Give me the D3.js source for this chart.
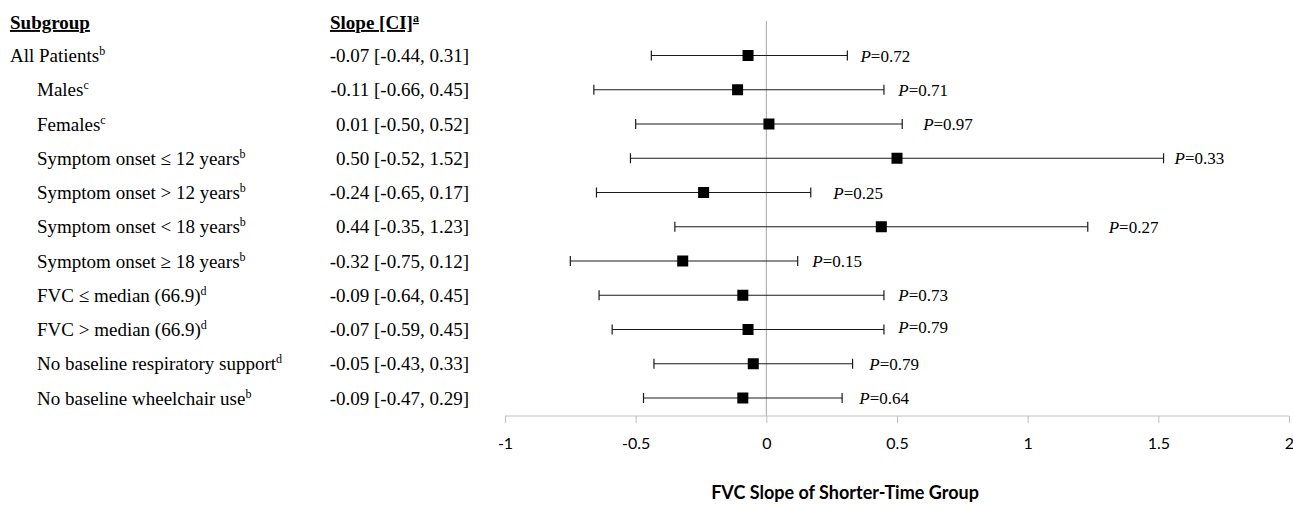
<!DOCTYPE html>
<html>
<head>
<meta charset="utf-8">
<script src="https://cdn.jsdelivr.net/npm/d3@7"></script>
<style>
  body { margin: 0; background: #fff; }
  svg { display: block; }
</style>
</head>
<body>
<div id="chart"></div>
<script>
// subgroup rows, top to bottom
const subgroups = [
  "All Patients", "Males", "Females",
  "Symptom onset \u2264 12 years", "Symptom onset > 12 years",
  "Symptom onset < 18 years", "Symptom onset \u2265 18 years",
  "FVC \u2264 median (66.9)", "FVC > median (66.9)",
  "No baseline respiratory support", "No baseline wheelchair use"
];
const notes = ["b", "c", "c", "b", "b", "b", "b", "d", "d", "d", "b"];
const indented = [false, true, true, true, true, true, true, true, true, true, true];

const slope = [-0.07, -0.11, 0.01, 0.50, -0.24, 0.44, -0.32, -0.09, -0.07, -0.05, -0.09];
const lower = [-0.44, -0.66, -0.50, -0.52, -0.65, -0.35, -0.75, -0.64, -0.59, -0.43, -0.47];
const upper = [0.31, 0.45, 0.52, 1.52, 0.17, 1.23, 0.12, 0.45, 0.45, 0.33, 0.29];
const pValues = ["0.72", "0.71", "0.97", "0.33", "0.25", "0.27", "0.15", "0.73", "0.79", "0.79", "0.64"];
// where each P label starts, in slope units
const pAt = [0.36, 0.505, 0.6, 1.562, 0.256, 1.31, 0.176, 0.505, 0.505, 0.394, 0.356];

const xTicks = [-1, -0.5, 0, 0.5, 1, 1.5, 2];

const width = 1293, height = 505;
const serif = "'Liberation Serif', 'Times New Roman', serif";
const sans = "Lato, 'Open Sans', sans-serif";

const svg = d3.select("#chart").append("svg")
    .attr("width", width)
    .attr("height", height);

const x = d3.scaleLinear().domain([-1, 2]).range([505, 1289]);
const y = d3.scalePoint().domain(subgroups).range([55.5, 398]);
const axisY = 416;

const fmt = d => (d < 0 ? "-" : "") + Math.abs(d).toFixed(2);

// headers
const head = svg.append("g")
    .attr("font-family", serif)
    .attr("font-size", 19)
    .attr("font-weight", "bold")
    .attr("text-decoration", "underline");
head.append("text").attr("x", 10).attr("y", 29).text("Subgroup");
const sh = head.append("text").attr("x", 330).attr("y", 29);
sh.append("tspan").text("Slope [CI]");
sh.append("tspan").attr("font-size", 12).attr("dy", -7).text("a");

// row labels and slope column
const rows = svg.append("g")
    .attr("font-family", serif)
    .attr("font-size", 19);

subgroups.forEach((s, i) => {
  const t = rows.append("text")
      .attr("x", indented[i] ? 37 : 10)
      .attr("y", y(s) + 6.5);
  t.append("tspan").text(s);
  t.append("tspan").attr("font-size", 12).attr("dy", -7).text(notes[i]);

  rows.append("text")
      .attr("x", 469)
      .attr("y", y(s) + 6.5)
      .attr("text-anchor", "end")
      .text(`${fmt(slope[i])} [${fmt(lower[i])}, ${fmt(upper[i])}]`);
});

// zero reference line
svg.append("line")
    .attr("x1", x(0)).attr("x2", x(0))
    .attr("y1", 21).attr("y2", axisY)
    .attr("stroke", "#a6a6a6")
    .attr("stroke-width", 1);

// x axis
const axis = svg.append("g")
    .attr("transform", `translate(0,${axisY})`)
    .call(d3.axisBottom(x).tickValues(xTicks).tickSize(7).tickPadding(15)
      .tickFormat(d => String(d)));
axis.select(".domain").attr("stroke", "#bfbfbf").attr("d", `M${x(-1)},0H${x(2)}`);
axis.selectAll(".tick line").attr("stroke", "#bfbfbf");
axis.selectAll(".tick text")
    .attr("font-family", sans)
    .attr("font-size", 16)
    .attr("fill", "#000");

svg.append("text")
    .attr("x", 845)
    .attr("y", 499)
    .attr("text-anchor", "middle")
    .attr("font-family", sans)
    .attr("font-size", 18)
    .attr("font-weight", "bold")
    .text("FVC Slope of Shorter-Time Group");

// error bars
const bars = svg.append("g").attr("stroke", "#1a1a1a").attr("stroke-width", 1.2);
subgroups.forEach((s, i) => {
  const yy = y(s);
  bars.append("line").attr("x1", x(lower[i])).attr("x2", x(upper[i])).attr("y1", yy).attr("y2", yy);
  bars.append("line").attr("x1", x(lower[i])).attr("x2", x(lower[i])).attr("y1", yy - 5).attr("y2", yy + 5);
  bars.append("line").attr("x1", x(upper[i])).attr("x2", x(upper[i])).attr("y1", yy - 5).attr("y2", yy + 5);
});

// point estimates
const sq = 11;
svg.append("g").selectAll("rect")
  .data(subgroups)
  .join("rect")
    .attr("x", (d, i) => x(slope[i]) - sq / 2)
    .attr("y", d => y(d) - sq / 2)
    .attr("width", sq)
    .attr("height", sq)
    .attr("fill", "#000");

// p values
const pg = svg.append("g")
    .attr("font-family", serif)
    .attr("font-size", 17);
subgroups.forEach((s, i) => {
  const t = pg.append("text")
      .attr("x", x(pAt[i]))
      .attr("y", y(s) + (i === 8 ? 3 : 6));
  t.append("tspan").attr("font-style", "italic").text("P");
  t.append("tspan").text("=" + pValues[i]);
});
</script>
</body>
</html>
